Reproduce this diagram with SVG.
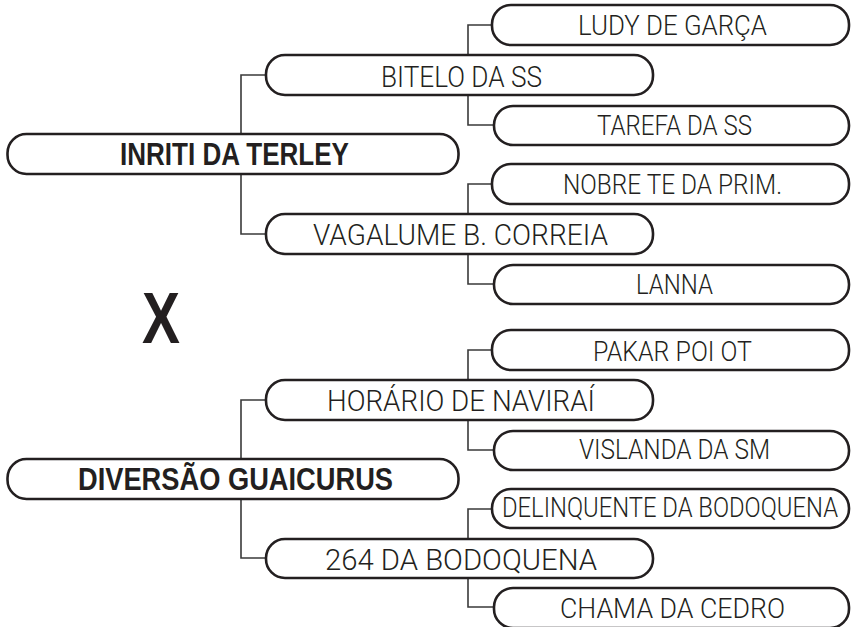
<svg xmlns="http://www.w3.org/2000/svg" width="851" height="627" viewBox="0 0 851 627">
<style>
.box{fill:#fff;stroke:#231f20;stroke-width:2.6}
.link{fill:none;stroke:#3a3a3a;stroke-width:1.6}
.t{font-family:Roboto,"Liberation Sans",Arial,sans-serif;font-weight:300;fill:#231f20;font-size:27px}
.m{font-size:29px}
.r{font-family:"Liberation Sans",Arial,sans-serif;font-size:31px;font-weight:bold}
.x{font-family:"Liberation Sans",Arial,sans-serif;fill:#231f20;font-size:72px;font-weight:bold}
</style>
<rect width="851" height="627" fill="#fff"/>
<g id="connectors">
<path class="link" d="M266 75H241V134M241 174V234H266"/>
<path class="link" d="M492 25H468V55M468 95V125H494"/>
<path class="link" d="M492 184H468V214M468 254V284H494"/>
<path class="link" d="M266 400H241V459M241 499V558H266"/>
<path class="link" d="M492 350H468V380M468 420V450H494"/>
<path class="link" d="M492 509H468V539M468 578V607H494"/>
</g>
<g id="n-inriti"><rect class="box" x="7.5" y="134" width="451" height="40" rx="19"/><text class="t r" x="120" y="165" textLength="229" lengthAdjust="spacingAndGlyphs">INRITI DA TERLEY</text></g>
<g id="n-bitelo"><rect class="box" x="266" y="55" width="387" height="40" rx="19"/><text class="t m" x="381" y="86.5" textLength="161" lengthAdjust="spacingAndGlyphs">BITELO DA SS</text></g>
<g id="n-ludy"><rect class="box" x="492" y="5" width="357" height="40" rx="19"/><text class="t" x="578" y="35" textLength="189" lengthAdjust="spacingAndGlyphs">LUDY DE GARÇA</text></g>
<g id="n-tarefa"><rect class="box" x="494" y="106" width="355" height="39" rx="19"/><text class="t" x="597" y="135" textLength="155" lengthAdjust="spacingAndGlyphs">TAREFA DA SS</text></g>
<g id="n-vagalume"><rect class="box" x="266" y="214" width="387" height="40" rx="19"/><text class="t m" x="313" y="245" textLength="295" lengthAdjust="spacingAndGlyphs">VAGALUME B. CORREIA</text></g>
<g id="n-nobre"><rect class="box" x="492" y="164" width="357" height="40" rx="19"/><text class="t" x="563" y="194" textLength="219" lengthAdjust="spacingAndGlyphs">NOBRE TE DA PRIM.</text></g>
<g id="n-lanna"><rect class="box" x="494" y="265" width="355" height="39" rx="19"/><text class="t" x="636" y="294" textLength="77" lengthAdjust="spacingAndGlyphs">LANNA</text></g>
<g id="versus"><text class="x" x="142" y="343" textLength="38" lengthAdjust="spacingAndGlyphs">X</text></g>
<g id="n-diversao"><rect class="box" x="7.5" y="459" width="451" height="40" rx="19"/><text class="t r" x="78" y="490" textLength="315" lengthAdjust="spacingAndGlyphs">DIVERSÃO GUAICURUS</text></g>
<g id="n-horario"><rect class="box" x="266" y="380" width="387" height="40" rx="19"/><text class="t m" x="327" y="411" textLength="268" lengthAdjust="spacingAndGlyphs">HORÁRIO DE NAVIRAÍ</text></g>
<g id="n-pakar"><rect class="box" x="492" y="330" width="357" height="40" rx="19"/><text class="t" x="593" y="361" textLength="159" lengthAdjust="spacingAndGlyphs">PAKAR POI OT</text></g>
<g id="n-vislanda"><rect class="box" x="494" y="431" width="355" height="39" rx="19"/><text class="t" x="579" y="459" textLength="191" lengthAdjust="spacingAndGlyphs">VISLANDA DA SM</text></g>
<g id="n-264"><rect class="box" x="266" y="539" width="387" height="39" rx="19"/><text class="t m" x="325" y="570" textLength="272" lengthAdjust="spacingAndGlyphs">264 DA BODOQUENA</text></g>
<g id="n-delinquente"><rect class="box" x="492" y="489" width="357" height="39" rx="19"/><text class="t" x="502" y="517" textLength="336" lengthAdjust="spacingAndGlyphs">DELINQUENTE DA BODOQUENA</text></g>
<g id="n-chama"><rect class="box" x="494" y="588" width="355" height="40" rx="19"/><text class="t" x="560" y="618" textLength="225" lengthAdjust="spacingAndGlyphs">CHAMA DA CEDRO</text></g>
</svg>
